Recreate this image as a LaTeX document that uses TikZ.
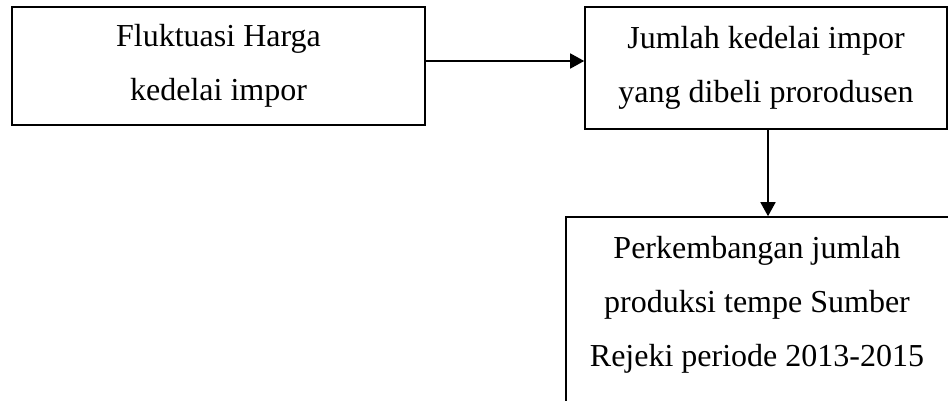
\documentclass[tikz,border=0pt]{standalone}
\usepackage{fontspec}
\setmainfont{Liberation Serif}
\usetikzlibrary{arrows.meta}
\begin{document}
\begin{tikzpicture}[x=1pt,y=1pt,
  boxline/.style={draw, line width=1.6pt, rectangle, inner sep=0pt},
  boxtext/.style={align=center, inner sep=0pt, font=\fontsize{32}{54}\selectfont},
  arr/.style={-{Triangle[length=14pt,width=15pt]}, line width=1.6pt}]
\useasboundingbox (0,0) rectangle (948,400);
\clip (0,0) rectangle (948,400);
\node[boxline, boxtext, minimum width=413pt, minimum height=118pt] (b1) at (218.5,334) {Fluktuasi Harga\\kedelai impor};
\node[boxline, boxtext, minimum width=362pt, minimum height=122pt] (b2) at (766,332) {Jumlah kedelai impor\\yang dibeli prorodusen};
\node[boxline, minimum width=385pt, minimum height=190pt] (b3) at (758.5,88) {};
\node[boxtext] (t3) at (757,95) {Perkembangan jumlah\\produksi tempe Sumber\\Rejeki periode 2013-2015};
\draw[arr] ([yshift=5pt]b1.east) -- ([yshift=7pt]b2.west);
\coordinate (v) at ([xshift=2pt]b2.south);
\draw[arr] (v) -- (v |- b3.north);
\end{tikzpicture}
\end{document}
